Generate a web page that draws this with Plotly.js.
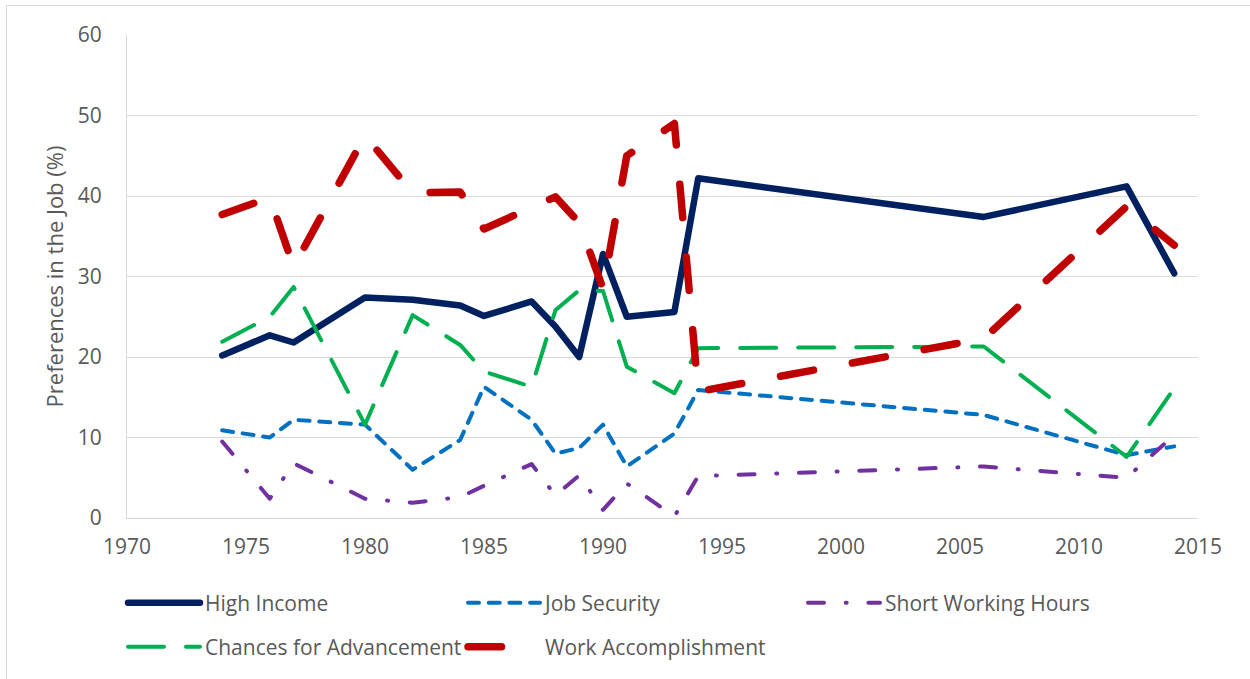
<!DOCTYPE html>
<html>
<head>
<meta charset="utf-8">
<script src="https://cdn.plot.ly/plotly-3.0.1.min.js"></script>
<style>
  body { margin: 0; background: #fff; }
  #wrap { position: relative; width: 1250px; height: 679px; overflow: hidden; }
  #frame { position: absolute; left: 6px; top: 5px; width: 1300px; height: 700px;
           border-left: 1px solid #d9d9d9; border-top: 1px solid #d9d9d9; pointer-events: none; }
  #chart { width: 1250px; height: 679px; }
  path.js-line { stroke-linecap: round !important; stroke-linejoin: round !important; }
</style>
</head>
<body>
<div id="wrap">
  <div id="chart"></div>
  <div id="frame"></div>
</div>
<script>
'use strict'

var years = [1974, 1976, 1977, 1980, 1982, 1984, 1985, 1987, 1988, 1989, 1990, 1991, 1993, 1994, 2006, 2012, 2014];

var highIncome   = [20.2, 22.7, 21.8, 27.4, 27.1, 26.4, 25.1, 26.9, 23.8, 20.0, 32.8, 25.0, 25.6, 42.2, 37.4, 41.2, 30.4];
var jobSecurity  = [10.9, 10.0, 12.2, 11.6, 6.0, 9.7, 16.3, 12.2, 8.0, 8.7, 11.6, 6.4, 10.5, 15.9, 12.8, 7.8, 8.9];
var shortHours   = [9.5, 2.4, 6.8, 2.4, 1.9, 2.6, 4.0, 6.7, 2.8, 5.3, 1.0, 4.3, 0.2, 5.2, 6.4, 5.0, 10.3];
var advancement  = [21.9, 25.0, 28.7, 11.6, 25.2, 21.5, 18.2, 16.3, 25.8, 28.3, 28.2, 18.8, 15.5, 21.1, 21.3, 7.6, 16.1];
var accomplish   = [37.7, 39.8, 31.2, 47.5, 40.4, 40.5, 35.9, 38.7, 39.9, 36.7, 28.5, 45.0, 49.0, 15.7, 22.3, 38.7, 33.9];

var xTicks = [1970, 1975, 1980, 1985, 1990, 1995, 2000, 2005, 2010, 2015];
var yTicks = [0, 10, 20, 30, 40, 50, 60];

var FONT = "'Open Sans', sans-serif";
var GREY = '#595959';

function series(name, y, color, width, dash, legend) {
  return {
    type: 'scatter',
    mode: 'lines',
    name: name,
    x: years,
    y: y,
    line: { color: color, width: width, dash: dash },
    legend: legend,
    hoverinfo: 'skip'
  };
}

var data = [
  series('High Income', highIncome, '#002060', 6.5, 'solid', 'legend'),
  series('Job Security', jobSecurity, '#0070C0', 4, '11px,9.7px', 'legend'),
  series('Short Working Hours', shortHours, '#7030A0', 4, '16px,21.7px,1px,21.7px', 'legend'),
  series('Chances for Advancement', advancement, '#00B050', 4, '36px,22px', 'legend2'),
  series('Work Accomplishment', accomplish, '#C00000', 7.5, '33.5px,39.5px', 'legend2')
];

var legendBase = {
  orientation: 'h',
  xref: 'container', yref: 'container',
  x: 123 / 1250, xanchor: 'left',
  yanchor: 'middle',
  entrywidth: 253, entrywidthmode: 'pixels',
  itemwidth: 72,
  font: { family: FONT, size: 21, color: GREY },
  bgcolor: 'rgba(0,0,0,0)',
  traceorder: 'normal'
};

var layout = {
  width: 1250, height: 679,
  margin: { l: 127, r: 52, t: 35, b: 161 },
  paper_bgcolor: '#fff',
  plot_bgcolor: '#fff',
  font: { family: FONT, size: 21, color: GREY },
  showlegend: true,
  legend: Object.assign({}, legendBase, { y: 1 - 603 / 679 }),
  legend2: Object.assign({}, legendBase, { y: 1 - 647 / 679 }),
  xaxis: {
    range: [1970, 2015],
    tickvals: xTicks,
    showgrid: false,
    zeroline: false,
    showline: true, linecolor: '#d9d9d9', linewidth: 1,
    ticks: '',
    ticklabelstandoff: 10,
    tickfont: { family: FONT, size: 21, color: GREY }
  },
  yaxis: {
    range: [0, 60],
    tickvals: yTicks,
    showgrid: true, gridcolor: '#d9d9d9', gridwidth: 1,
    zeroline: false,
    showline: true, linecolor: '#d9d9d9', linewidth: 1,
    ticks: '',
    ticklabelstandoff: 20,
    tickfont: { family: FONT, size: 21, color: GREY },
    title: { text: 'Preferences in the Job (%)', font: { family: FONT, size: 22, color: GREY }, standoff: 8 }
  }
};

var config = { displayModeBar: false, staticPlot: true };

Plotly.newPlot('chart', data, layout, config);
</script>
</body>
</html>
